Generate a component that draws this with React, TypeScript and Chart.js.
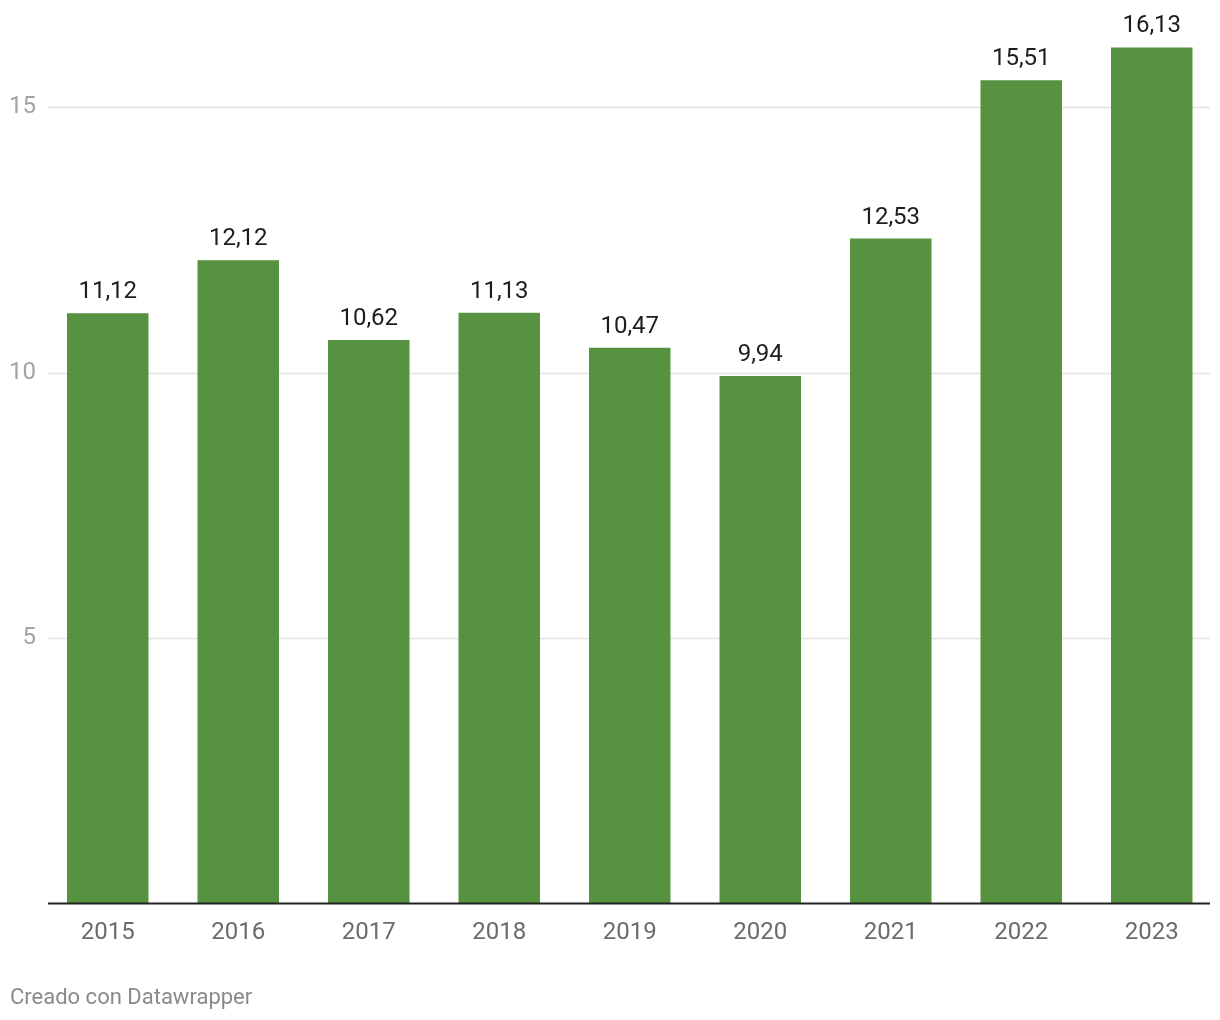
import React, { useEffect, useRef } from "react";
import { Chart, registerables } from "chart.js";

Chart.register(...registerables);

const years = ["2015", "2016", "2017", "2018", "2019", "2020", "2021", "2022", "2023"];
const values = [11.12, 12.12, 10.62, 11.13, 10.47, 9.94, 12.53, 15.51, 16.13];
const yTickValues = [5, 10, 15];

const BAR_COLOR = "#56923f";
const FONT = "Roboto, 'Noto Sans', sans-serif";

const fmt = (v: number) => v.toFixed(2).replace(".", ",");

export default function App() {
  const ref = useRef<HTMLCanvasElement | null>(null);

  useEffect(() => {
    document.body.style.margin = "0";
    const canvas = ref.current;
    if (!canvas) return;

    const gridPlugin = {
      id: "customGrid",
      beforeDatasetsDraw(chart: any) {
        const ctx = chart.ctx;
        const y = chart.scales.y;
        ctx.save();
        ctx.strokeStyle = "#e3e3e3";
        ctx.lineWidth = 1.5;
        yTickValues.forEach((v) => {
          const py = Math.round(y.getPixelForValue(v)) + 0.5;
          ctx.beginPath();
          ctx.moveTo(48, py);
          ctx.lineTo(1210, py);
          ctx.stroke();
        });
        ctx.restore();
      },
      afterDatasetsDraw(chart: any) {
        const ctx = chart.ctx;
        const y = chart.scales.y;
        const meta = chart.getDatasetMeta(0);
        ctx.save();
        const py0 = y.getPixelForValue(0);
        ctx.strokeStyle = "#222222";
        ctx.lineWidth = 2;
        ctx.beginPath();
        ctx.moveTo(48, py0);
        ctx.lineTo(1210, py0);
        ctx.stroke();
        ctx.fillStyle = "#1d1d1d";
        ctx.font = `400 24px ${FONT}`;
        ctx.textAlign = "center";
        ctx.textBaseline = "alphabetic";
        meta.data.forEach((bar: any, i: number) => {
          ctx.fillText(fmt(values[i]), bar.x, bar.y - 15);
        });
        ctx.restore();
      },
    };

    const chart = new Chart(canvas, {
      type: "bar",
      data: {
        labels: years,
        datasets: [
          {
            data: values,
            backgroundColor: BAR_COLOR,
            borderWidth: 0,
            barPercentage: 0.6245,
            categoryPercentage: 1,
          },
        ],
      },
      options: {
        animation: false,
        responsive: false,
        maintainAspectRatio: false,
        layout: { padding: { top: 10, right: 3, left: 0, bottom: 0 } },
        plugins: {
          legend: { display: false },
          tooltip: { enabled: false },
          title: { display: false },
        },
        scales: {
          x: {
            type: "category",
            offset: true,
            grid: { display: false, drawTicks: false },
            border: { display: false },
            ticks: {
              color: "#6b6b6b",
              font: { family: FONT, size: 24 },
              padding: 15,
              maxRotation: 0,
              autoSkip: false,
            },
            afterFit: (scale: any) => {
              scale.height = 116.5;
              scale.paddingLeft = 0;
              scale.paddingRight = 0;
            },
          },
          y: {
            type: "linear",
            min: 0,
            max: 16.836,
            grid: { display: false, drawTicks: false },
            border: { display: false },
            ticks: {
              color: "#a3a3a3",
              font: { family: FONT, size: 24 },
              padding: 6.5,
            },
            afterBuildTicks: (scale: any) => {
              scale.ticks = yTickValues.map((v) => ({ value: v }));
            },
            afterFit: (scale: any) => {
              scale.width = 42.5;
              scale.paddingTop = 0;
              scale.paddingBottom = 0;
            },
          },
        },
      },
      plugins: [gridPlugin],
    });

    return () => chart.destroy();
  }, []);

  return (
    <div style={{ position: "relative", width: 1220, height: 1020, background: "#ffffff" }}>
      <canvas ref={ref} width={1220} height={1020} style={{ display: "block" }} />
      <div
        style={{
          position: "absolute",
          left: 10,
          top: 984,
          fontFamily: FONT,
          fontSize: 22,
          color: "#8a8a8a",
          lineHeight: "26px",
          whiteSpace: "nowrap",
        }}
      >
        Creado con Datawrapper
      </div>
    </div>
  );
}
